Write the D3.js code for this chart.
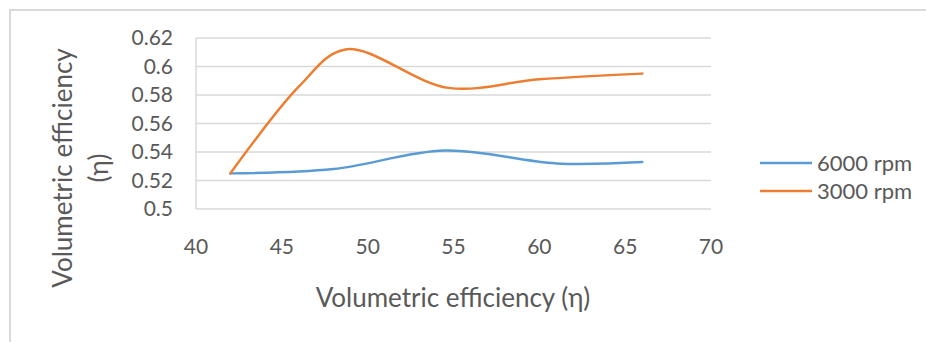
<!DOCTYPE html>
<html>
<head>
<meta charset="utf-8">
<script src="https://cdn.jsdelivr.net/npm/d3@7"></script>
<style>
  body { margin: 0; background: #fff; }
  svg { display: block; }
  text { font-family: Lato, "Open Sans", sans-serif; fill: #595959; }
</style>
</head>
<body>
<svg id="chart" width="926" height="342"></svg>
<script>
// Series (x, volumetric efficiency)
const rpm6000 = [[42, 0.525], [48, 0.528], [54.5, 0.541], [61, 0.532], [66, 0.533]];
const rpm3000 = [[42, 0.525], [46, 0.586], [48.7, 0.612], [54.7, 0.585], [60, 0.591], [66, 0.595]];
const seriesNames = ['6000 rpm', '3000 rpm'];
const seriesColors = ['#5B9BD5', '#ED7D31'];
const xTicks = [40, 45, 50, 55, 60, 65, 70];
const yTicks = [0.5, 0.52, 0.54, 0.56, 0.58, 0.6, 0.62];

const svg = d3.select('#chart');

// outer frame (top and left edges visible)
svg.append('path')
  .attr('d', 'M10,342 V10 H926')
  .attr('fill', 'none')
  .attr('stroke', '#d9d9d9')
  .attr('stroke-width', 2);

const x = d3.scaleLinear().domain([40, 70]).range([196, 711]);
const y = d3.scaleLinear().domain([0.5, 0.62]).range([209, 38]);

// gridlines
svg.append('g')
  .selectAll('line')
  .data(yTicks)
  .join('line')
  .attr('x1', x(40))
  .attr('x2', x(70))
  .attr('y1', (d) => y(d))
  .attr('y2', (d) => y(d))
  .attr('stroke', '#d9d9d9')
  .attr('stroke-width', 1.5);

// left edge of plot area
svg.append('line')
  .attr('x1', x(40)).attr('x2', x(40))
  .attr('y1', y(0.62)).attr('y2', y(0.5))
  .attr('stroke', '#d9d9d9')
  .attr('stroke-width', 1.5);

// y tick labels
svg.append('g')
  .selectAll('text')
  .data(yTicks)
  .join('text')
  .attr('x', 173)
  .attr('y', (d) => y(d))
  .attr('dy', '0.35em')
  .attr('text-anchor', 'end')
  .attr('font-size', '21px')
  .text((d) => +d.toFixed(2));

// x tick labels
svg.append('g')
  .selectAll('text')
  .data(xTicks)
  .join('text')
  .attr('x', (d) => x(d))
  .attr('y', 247)
  .attr('dy', '0.35em')
  .attr('text-anchor', 'middle')
  .attr('font-size', '21px')
  .text((d) => d);

// axis titles
svg.append('text')
  .attr('x', 453)
  .attr('y', 298)
  .attr('dy', '0.35em')
  .attr('text-anchor', 'middle')
  .attr('font-size', '26px')
  .text('Volumetric efficiency (η)');

const yTitle = svg.append('text')
  .attr('transform', 'translate(72,168) rotate(-90)')
  .attr('text-anchor', 'middle')
  .attr('font-size', '26px');
yTitle.append('tspan').attr('x', 0).attr('y', 0).text('Volumetric efficiency');
yTitle.append('tspan').attr('x', 0).attr('y', 36).text('(η)');

// smoothed lines
const line = d3.line()
  .x((d) => x(d[0]))
  .y((d) => y(d[1]))
  .curve(d3.curveCatmullRom.alpha(0.5));

[rpm6000, rpm3000].forEach((data, i) => {
  svg.append('path')
    .datum(data)
    .attr('d', line)
    .attr('fill', 'none')
    .attr('stroke', seriesColors[i])
    .attr('stroke-width', 2.5)
    .attr('stroke-linecap', 'round');
});

// legend
const legend = svg.append('g')
  .selectAll('g')
  .data(seriesNames)
  .join('g')
  .attr('transform', (d, i) => `translate(760,${163 + i * 28})`);
legend.append('line')
  .attr('x1', 0).attr('x2', 52)
  .attr('stroke', (d, i) => seriesColors[i])
  .attr('stroke-width', 2.5);
legend.append('text')
  .attr('x', 57)
  .attr('dy', '0.35em')
  .attr('font-size', '22px')
  .text((d) => d);
</script>
</body>
</html>
